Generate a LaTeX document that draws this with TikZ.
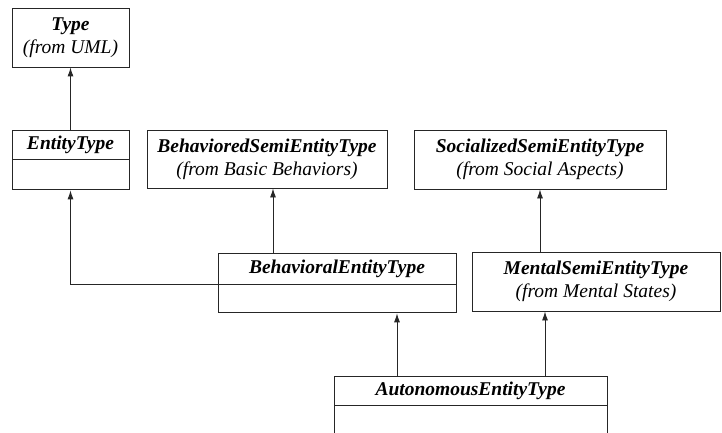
\documentclass[tikz,border=0pt]{standalone}
\usepackage{fontspec}
\setmainfont{Liberation Serif}
\usetikzlibrary{arrows.meta}
\newcommand{\clsname}[1]{\textbf{\textit{#1}}}
\tikzset{%
	class box/.style={
		rectangle,
		draw=black!85,
		line width=0.9pt,
		inner sep=0pt,
		align=center,
		font=\fontsize{19.5}{23}\selectfont
	},
	generalize/.style={
		draw=black!85,
		line width=0.9pt,
		-{Latex[length=9pt,width=6pt]}
	},
}

\begin{document}
\begin{tikzpicture}[x=1pt,y=-1pt]
		\useasboundingbox (0,0) rectangle (722,433);
		\clip (0,0) rectangle (722,433);
		% Classes
		\node[class box, minimum width=117, minimum height=59] (type) at (70.5,37.5) {\clsname{Type}\\\textit{(from UML)}};
		\node[class box, minimum width=117, minimum height=29] (entity) at (70.5,144.5) {\clsname{EntityType}};
		\node[class box, anchor=north, minimum width=117, minimum height=30] (entity-attr) at (entity.south) {};
		\node[class box, minimum width=240, minimum height=58] (behaviored) at (267,159) {\clsname{BehavioredSemiEntityType}\\\textit{(from Basic Behaviors)}};
		\node[class box, minimum width=252, minimum height=59] (socialized) at (540,159.5) {\clsname{SocializedSemiEntityType}\\\textit{(from Social Aspects)}};
		\node[class box, minimum width=238, minimum height=31] (behavioral) at (337,268.5) {\clsname{BehavioralEntityType}};
		\node[class box, anchor=north, minimum width=238, minimum height=28] (behavioral-attr) at (behavioral.south) {};
		\node[class box, minimum width=248, minimum height=59] (mental) at (596,281.5) {\clsname{MentalSemiEntityType}\\\textit{(from Mental States)}};
		\node[class box, minimum width=273, minimum height=29] (autonomous) at (470.5,390.5) {\clsname{AutonomousEntityType}};
		\node[class box, anchor=north, minimum width=273, minimum height=40] (autonomous-attr) at (autonomous.south) {};
		
		% Generalizations
		\coordinate (behav-up) at (273,253);
		\coordinate (auto-left) at (397,376);
		\coordinate (auto-right) at (545,376);
		\draw[generalize] (entity.north) -- (type.south);
		\draw[generalize] (behavioral.south west) -| (entity-attr.south);
		\draw[generalize] (behav-up) -- (behav-up |- behaviored.south);
		\draw[generalize] (socialized.south |- mental.north) -- (socialized.south);
		\draw[generalize] (auto-left) -- (auto-left |- behavioral-attr.south);
		\draw[generalize] (auto-right) -- (auto-right |- mental.south);
\end{tikzpicture}
\end{document}
